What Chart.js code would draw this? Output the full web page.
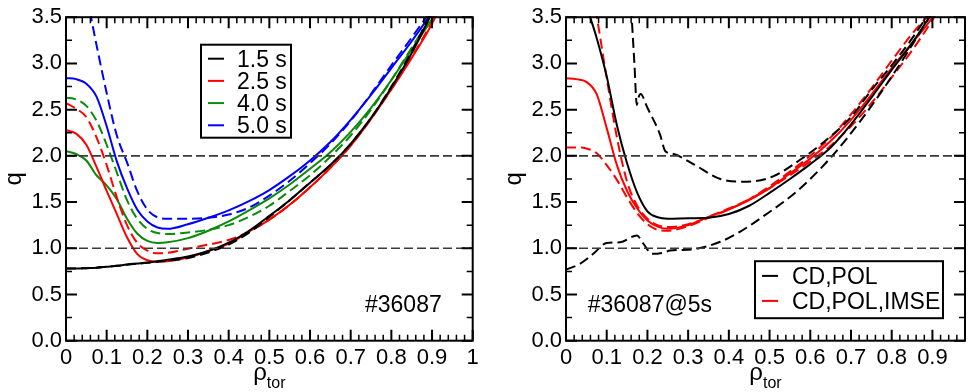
<!DOCTYPE html>
<html>
<head>
<meta charset="utf-8">
<script src="https://cdn.jsdelivr.net/npm/chart.js@4.4.1/dist/chart.umd.min.js"></script>
<style>
    body { margin: 0; background: #fff; }
    #wrap { position: relative; width: 970px; height: 392px; }
    canvas { position: absolute; top: 0; }
</style>
</head>
<body>
<div id="wrap">
    <canvas id="leftChart" width="485" height="392" style="left:0"></canvas>
    <canvas id="rightChart" width="470" height="392" style="left:500px"></canvas>
</div>
<script>
// shared rho grid for most profiles
const rhoGrid = [0, 0.025, 0.05, 0.075, 0.1, 0.125, 0.15, 0.175, 0.2, 0.225, 0.25, 0.3, 0.35, 0.4, 0.45, 0.5, 0.55, 0.6, 0.65, 0.7, 0.75, 0.8, 0.85, 0.9, 0.95];

// left panel: q profiles of #36087 at four times (solid / dashed)
const q15  = [0.78, 0.78, 0.785, 0.79, 0.80, 0.81, 0.825, 0.835, 0.845, 0.86, 0.875, 0.91, 0.97, 1.06, 1.19, 1.35, 1.52, 1.71, 1.90, 2.13, 2.41, 2.74, 3.11, 3.55, 4.05];
const q15d = [0.78, 0.78, 0.785, 0.79, 0.80, 0.81, 0.822, 0.832, 0.842, 0.855, 0.865, 0.895, 0.955, 1.04, 1.17, 1.34, 1.52, 1.71, 1.90, 2.13, 2.41, 2.75, 3.13, 3.58, 4.1];
const q25  = [2.28, 2.24, 2.12, 1.88, 1.62, 1.37, 1.12, 0.94, 0.87, 0.855, 0.86, 0.90, 0.97, 1.05, 1.18, 1.31, 1.47, 1.66, 1.87, 2.11, 2.40, 2.72, 3.06, 3.43, 3.9];
const q25d = [2.57, 2.51, 2.42, 2.20, 1.90, 1.55, 1.25, 1.06, 0.975, 0.945, 0.95, 0.995, 1.04, 1.09, 1.18, 1.31, 1.47, 1.66, 1.87, 2.11, 2.40, 2.72, 3.07, 3.45, 3.9];
const q40  = [2.05, 2.02, 1.95, 1.79, 1.68, 1.53, 1.32, 1.16, 1.08, 1.058, 1.065, 1.11, 1.19, 1.29, 1.41, 1.54, 1.69, 1.86, 2.04, 2.26, 2.52, 2.82, 3.15, 3.48, 3.85];
const q40d = [2.63, 2.61, 2.54, 2.38, 2.12, 1.82, 1.52, 1.32, 1.21, 1.165, 1.155, 1.17, 1.20, 1.25, 1.34, 1.46, 1.62, 1.79, 1.99, 2.22, 2.50, 2.82, 3.17, 3.52, 3.9];
const q50  = [2.84, 2.83, 2.78, 2.64, 2.32, 1.94, 1.65, 1.42, 1.29, 1.225, 1.21, 1.26, 1.33, 1.41, 1.51, 1.63, 1.78, 1.95, 2.15, 2.39, 2.66, 2.95, 3.24, 3.56, 3.95];
const q50d = [4.5, 4.2, 3.75, 3.2, 2.68, 2.22, 1.93, 1.62, 1.42, 1.335, 1.32, 1.32, 1.33, 1.365, 1.44, 1.57, 1.73, 1.92, 2.13, 2.38, 2.67, 2.98, 3.28, 3.6, 4.0];

// right panel: #36087 @ 5s, CD,POL vs CD,POL,IMSE
const qPol    = [4.6, 4.2, 3.65, 3.28, 2.86, 2.33, 1.92, 1.60, 1.40, 1.335, 1.32, 1.325, 1.33, 1.37, 1.46, 1.60, 1.75, 1.91, 2.09, 2.34, 2.63, 2.93, 3.22, 3.56, 4.0];
const qImse   = [2.84, 2.83, 2.80, 2.67, 2.30, 1.90, 1.62, 1.43, 1.30, 1.235, 1.21, 1.25, 1.34, 1.42, 1.52, 1.65, 1.81, 1.97, 2.16, 2.39, 2.66, 2.95, 3.22, 3.5, 3.9];
const qImseHi = [6.0, 5.0, 4.1, 3.52, 2.84, 2.2, 1.72, 1.46, 1.32, 1.25, 1.23, 1.26, 1.34, 1.43, 1.53, 1.65, 1.79, 1.94, 2.11, 2.32, 2.57, 2.85, 3.14, 3.47, 3.85];
const qImseLo = [2.09, 2.09, 2.08, 2.03, 1.90, 1.74, 1.55, 1.38, 1.26, 1.20, 1.19, 1.24, 1.33, 1.42, 1.53, 1.67, 1.83, 2.0, 2.20, 2.45, 2.73, 3.03, 3.32, 3.58, 3.95];

// CD,POL uncertainty band (own rho points)
const rhoPolHi = [0.160, 0.168, 0.174, 0.178, 0.183, 0.2, 0.231, 0.244, 0.264, 0.313, 0.379, 0.445, 0.51, 0.576, 0.625, 0.7, 0.75, 0.8, 0.85, 0.9];
const qPolHi   = [3.6, 3.0, 2.55, 2.63, 2.67, 2.52, 2.23, 2.05, 2.02, 1.91, 1.75, 1.72, 1.78, 1.96, 2.12, 2.42, 2.71, 2.98, 3.27, 3.6];
const rhoPolLo = [0, 0.034, 0.067, 0.1, 0.133, 0.174, 0.19, 0.211, 0.236, 0.256, 0.313, 0.379, 0.428, 0.486, 0.568, 0.65, 0.732, 0.814, 0.87, 0.9];
const qPolLo   = [0.77, 0.83, 0.94, 1.058, 1.065, 1.137, 1.05, 0.94, 0.95, 0.975, 0.99, 1.07, 1.18, 1.35, 1.62, 1.98, 2.43, 2.95, 3.34, 3.55];

// reference levels q=1, q=2
const qLevels = [1, 2];

// ticks
const xTicksLeft = [0, 0.1, 0.2, 0.3, 0.4, 0.5, 0.6, 0.7, 0.8, 0.9, 1];
const xLabelsLeft = ['0', '0.1', '0.2', '0.3', '0.4', '0.5', '0.6', '0.7', '0.8', '0.9', '1'];
const xTicksRight = [0, 0.1, 0.2, 0.3, 0.4, 0.5, 0.6, 0.7, 0.8, 0.9];
const xLabelsRight = ['0', '0.1', '0.2', '0.3', '0.4', '0.5', '0.6', '0.7', '0.8', '0.9'];
const yTicks = [0, 0.5, 1, 1.5, 2, 2.5, 3, 3.5];
const yLabels = ['0.0', '0.5', '1.0', '1.5', '2.0', '2.5', '3.0', '3.5'];

const legendLeft = ['1.5 s', '2.5 s', '4.0 s', '5.0 s'];
const legendRight = ['CD,POL', 'CD,POL,IMSE'];

const FONT = "'Liberation Sans', Arial, Helvetica, sans-serif";
const GREEN = '#0a8a0a';

function points(xs, ys) {
    return xs.map((x, i) => ({ x: x, y: ys[i] }));
}

function curve(xs, ys, color, dashed) {
    return {
        data: points(xs, ys),
        borderColor: color,
        borderWidth: 2,
        borderDash: dashed ? [10, 5] : [],
        pointRadius: 0,
        cubicInterpolationMode: 'monotone',
        fill: false,
        clip: 1
    };
}

function refLines(xMax) {
    return qLevels.map(level => ({
        data: [{ x: 0, y: level }, { x: xMax, y: level }],
        borderColor: '#3a3a3a',
        borderWidth: 1.6,
        borderDash: [9, 4],
        pointRadius: 0
    }));
}

// frame, inward ticks, legend box, labels
const decoPlugin = {
    id: 'deco',
    afterDraw(chart, args, opts) {
        const { ctx, chartArea: a, scales: { x, y } } = chart;
        ctx.save();
        ctx.strokeStyle = '#000';

        // x ticks, every 0.02, major every 0.1
        for (let i = 0; i * 0.02 <= x.max + 1e-9; i++) {
            const px = x.getPixelForValue(i * 0.02);
            const major = i % 5 === 0;
            const len = major ? 11 : 6;
            ctx.lineWidth = major ? 2 : 1.5;
            ctx.beginPath();
            ctx.moveTo(px, a.bottom); ctx.lineTo(px, a.bottom - len);
            ctx.moveTo(px, a.top); ctx.lineTo(px, a.top + len);
            ctx.stroke();
        }
        // y ticks, every 0.25, major every 0.5
        for (let i = 0; i * 0.25 <= y.max + 1e-9; i++) {
            const py = y.getPixelForValue(i * 0.25);
            const major = i % 2 === 0;
            const len = major ? 11 : 6;
            ctx.lineWidth = major ? 2 : 1.5;
            ctx.beginPath();
            ctx.moveTo(a.left, py); ctx.lineTo(a.left + len, py);
            ctx.moveTo(a.right, py); ctx.lineTo(a.right - len, py);
            ctx.stroke();
        }
        ctx.lineWidth = 2;
        ctx.strokeRect(a.left, a.top, a.right - a.left, a.bottom - a.top);

        // legend
        const lg = opts.legend;
        const bx = a.left + lg.left, by = a.top + lg.top;
        ctx.fillStyle = '#fff';
        ctx.fillRect(bx, by, lg.width, lg.height);
        ctx.strokeStyle = '#000';
        ctx.lineWidth = 2;
        ctx.strokeRect(bx, by, lg.width, lg.height);
        ctx.font = '23px ' + FONT;
        ctx.textAlign = 'left';
        ctx.textBaseline = 'alphabetic';
        lg.items.forEach((text, i) => {
            const cy = by + lg.firstRow + i * lg.rowGap;
            ctx.strokeStyle = lg.colors[i];
            ctx.lineWidth = 2;
            ctx.beginPath();
            ctx.moveTo(bx + 7, cy); ctx.lineTo(bx + 23, cy);
            ctx.stroke();
            ctx.fillStyle = '#000';
            ctx.fillText(text, bx + lg.textX, cy + 8);
        });

        // shot label
        ctx.font = '23px ' + FONT;
        ctx.fillStyle = '#000';
        ctx.fillText(opts.note, a.left + opts.noteX, a.bottom - 29);

        // axis titles
        const cx = (a.left + a.right) / 2;
        ctx.font = '24px ' + FONT;
        const wRho = ctx.measureText('\u03c1').width;
        ctx.font = '16px ' + FONT;
        const wTor = ctx.measureText('tor').width;
        const sx = cx - (wRho + wTor) / 2;
        ctx.font = '24px ' + FONT;
        ctx.fillText('\u03c1', sx, 380);
        ctx.font = '16px ' + FONT;
        ctx.fillText('tor', sx + wRho, 388);

        ctx.save();
        ctx.translate(a.left - 50, (a.top + a.bottom) / 2);
        ctx.rotate(-Math.PI / 2);
        ctx.font = '24px ' + FONT;
        ctx.textAlign = 'center';
        ctx.fillText('q', 0, 5);
        ctx.restore();

        ctx.restore();
    }
};

function makeChart(id, datasets, xMax, xTicks, xLabels, padRight, deco) {
    return new Chart(document.getElementById(id), {
        type: 'line',
        data: { datasets: datasets },
        options: {
            responsive: false,
            animation: false,
            events: [],
            layout: { padding: { left: 0, right: padRight, top: 15.3, bottom: 0 } },
            plugins: {
                legend: { display: false },
                tooltip: { enabled: false },
                deco: deco
            },
            scales: {
                x: {
                    type: 'linear',
                    min: 0,
                    max: xMax,
                    grid: { display: false, drawTicks: false },
                    border: { display: false },
                    afterBuildTicks: s => { s.ticks = xTicks.map(v => ({ value: v })); },
                    afterFit: s => { s.height = 51.3; },
                    ticks: {
                        autoSkip: false,
                        maxRotation: 0,
                        padding: 4,
                        color: '#000',
                        font: { family: FONT, size: 22 },
                        callback: (v, i) => xLabels[i]
                    }
                },
                y: {
                    type: 'linear',
                    min: 0,
                    max: 3.5,
                    grid: { display: false, drawTicks: false },
                    border: { display: false },
                    afterBuildTicks: s => { s.ticks = yTicks.map(v => ({ value: v })); },
                    afterFit: s => { s.width = 66; },
                    ticks: {
                        autoSkip: false,
                        padding: 4,
                        color: '#000',
                        font: { family: FONT, size: 22 },
                        callback: (v, i) => yLabels[i]
                    }
                }
            }
        },
        plugins: [decoPlugin]
    });
}

makeChart('leftChart', [
    ...refLines(1),
    curve(rhoGrid, q15d, '#000', true),
    curve(rhoGrid, q15, '#000', false),
    curve(rhoGrid, q25d, '#ff0000', true),
    curve(rhoGrid, q25, '#ff0000', false),
    curve(rhoGrid, q40d, GREEN, true),
    curve(rhoGrid, q40, GREEN, false),
    curve(rhoGrid, q50d, '#0000ff', true),
    curve(rhoGrid, q50, '#0000ff', false)
], 1, xTicksLeft, xLabelsLeft, 12.3, {
    legend: {
        items: legendLeft,
        colors: ['#000', '#ff0000', GREEN, '#0000ff'],
        left: 135, top: 27.5, width: 90, height: 93,
        firstRow: 14, rowGap: 22.2, textX: 36
    },
    note: '#36087',
    noteX: 299
});

makeChart('rightChart', [
    ...refLines(0.98),
    curve(rhoPolHi, qPolHi, '#000', true),
    curve(rhoPolLo, qPolLo, '#000', true),
    curve(rhoGrid, qPol, '#000', false),
    curve(rhoGrid, qImseHi, '#ff0000', true),
    curve(rhoGrid, qImseLo, '#ff0000', true),
    curve(rhoGrid, qImse, '#ff0000', false)
], 0.98, xTicksRight, xLabelsRight, 5, {
    legend: {
        items: legendRight,
        colors: ['#000', '#ff0000'],
        left: 189, top: 244, width: 188, height: 57,
        firstRow: 14.7, rowGap: 25, textX: 37
    },
    note: '#36087@5s',
    noteX: 21.7
});
</script>
</body>
</html>
